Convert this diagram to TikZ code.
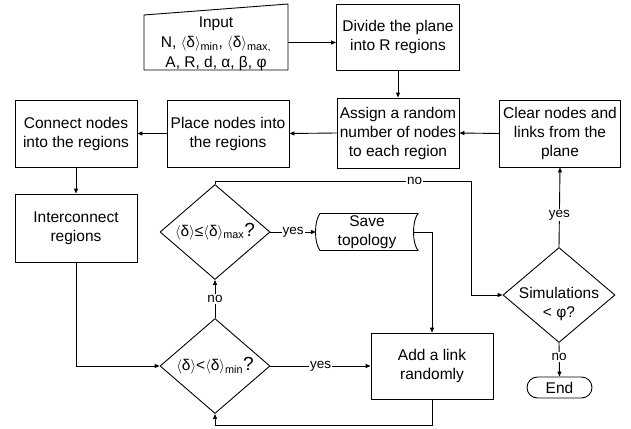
\documentclass[tikz,border=0pt]{standalone}
\usepackage{fontspec}
\setmainfont{Liberation Sans}
\usetikzlibrary{shapes.geometric,arrows.meta,calc}
\newcommand{\avgd}{$\langle$δ$\rangle$}
\begin{document}
\begin{tikzpicture}[x=1pt,y=-1pt,
 every node/.style={font=\fontsize{15.5}{19}\selectfont},
 box/.style={draw, line width=0.9pt, rectangle, inner sep=0pt, align=center},
 dec/.style={draw, diamond, line width=0.9pt, inner sep=0pt},
 lab/.style={fill=white, inner sep=1pt, font=\fontsize{13.5}{15}\selectfont},
 conn/.style={line width=0.9pt, -{Triangle[length=5pt,width=4pt]}},
 plain/.style={line width=0.9pt}]
\useasboundingbox (0,0) rectangle (631,428);

% nodes
\node[inner sep=0pt, minimum width=144pt] (input) at (216,42.5)
  {\raisebox{-5pt}[0pt][0pt]{\fontsize{15.5}{20}\selectfont\begin{tabular}{@{}c@{}}Input\\N, \avgd\textsubscript{min}, \avgd\textsubscript{max,}\\A, R, d, α, β, φ\end{tabular}}};
\draw[plain] ($(input.center)+(-72,27.5)$) -- ($(input.center)+(72,27.5)$)
  -- ($(input.center)+(72,-38.5)$) -- ($(input.center)+(-72,-27.5)$) -- cycle;

\node[box, minimum width=123pt, minimum height=66pt] (divide) at (398,37) {Divide the plane\\into R regions};
\node[box, minimum width=122pt, minimum height=70pt] (assign) at (398,133) {Assign a random\\number of nodes\\to each region};
\node[box, minimum width=121pt, minimum height=67pt] (clear) at (560,133.5) {Clear nodes and\\links from the\\plane};
\node[box, minimum width=122pt, minimum height=67pt] (place) at (228,133.5) {Place nodes into\\the regions};
\node[box, minimum width=122pt, minimum height=67pt] (connect) at (76,133.5) {Connect nodes\\into the regions};
\node[box, minimum width=122pt, minimum height=68pt] (inter) at (76,228) {Interconnect\\regions};

\node[dec, minimum width=110pt, minimum height=95pt] (d1) at (215,232)
  {\makebox[0pt]{\avgd≤\avgd\textsubscript{max}{\fontsize{19}{19}\selectfont ?}}};
\node[dec, minimum width=110pt, minimum height=95pt] (d2) at (215,366)
  {\makebox[0pt]{\avgd<\avgd\textsubscript{min}{\fontsize{19}{19}\selectfont ?}}};

\node[align=center, inner sep=0pt, minimum width=102pt] (save) at (367,232) {Save\\topology};
\draw[plain] ($(save.center)+(-47,-18.5)$) -- ($(save.center)+(51,-18.5)$)
  .. controls ($(save.center)+(45,-11)$) and ($(save.center)+(45,11)$) .. ($(save.center)+(51,18.5)$)
  -- ($(save.center)+(-47,18.5)$)
  .. controls ($(save.center)+(-53,11)$) and ($(save.center)+(-53,-11)$) .. cycle;

\node[box, minimum width=122pt, minimum height=66pt] (add) at (432,366) {Add a link\\randomly};

\node[dec, minimum width=112pt, minimum height=95pt] (sim) at (559,295)
  {\makebox[0pt]{\raisebox{-13pt}[0pt][0pt]{\begin{tabular}{@{}c@{}}Simulations\\< φ?\end{tabular}}}};
\node[draw, line width=0.9pt, rounded corners=10.5pt, minimum width=65pt, minimum height=21pt, inner sep=0pt] (end) at (559.5,387.5) {End};

\coordinate (k1) at (471,181);
\coordinate (k2) at (432,425);

% connectors
\draw[conn] (input.east) -- (input.east -| divide.west);
\draw[conn] (divide.south) -- (assign.north);
\draw[conn] (clear.west) -- (assign.east);
\draw[conn] (assign.west) -- (place.east);
\draw[conn] (place.west) -- (connect.east);
\draw[conn] (connect.south) -- (inter.north);
\draw[conn] (inter.south) |- (d2.west);
\draw[conn] (d2.north) -- node[lab]{no} (d1.south);
\draw[conn] (d2.east) -- node[lab]{yes} (add.west);
\draw[conn] (d1.east) -- node[lab]{yes} (save.west);
\draw[conn] ([xshift=-4pt]save.east) -| (add.north);
\draw[conn] (d1.north) |- node[lab, pos=0.89]{no} (k1) |- (sim.west);
\draw[conn] (sim.north) -- node[lab, pos=0.4]{yes} (clear.south);
\draw[conn] (sim.south) -- node[lab, pos=0.42]{no} (end.north);
\draw[conn] (add.south) -- (k2) -| (d2.south);
\end{tikzpicture}
\end{document}
